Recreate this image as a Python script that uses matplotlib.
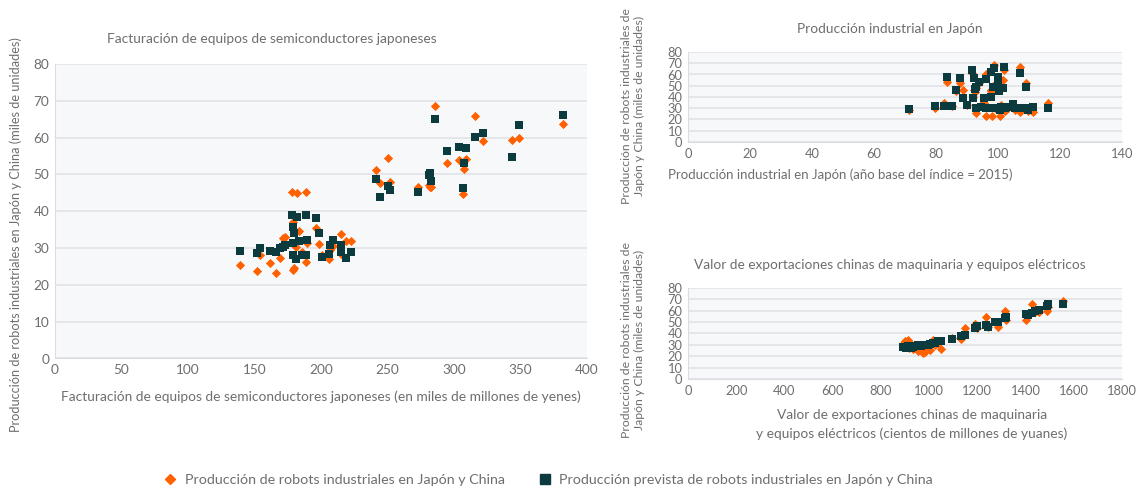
import numpy as np
import matplotlib.pyplot as plt

plt.rcParams['font.family'] = ['Lato', 'DejaVu Sans']

# Colours
ORANGE = '#ff6000'
DARK = '#0b3a3f'
GREY_TXT = '#6d6e71'
BG = '#f7f8fa'
GRID = '#e2e3e6'

# ---- Panel 1: semiconductor equipment billing (x), actual & predicted robots ----
semi_x = [138.8, 151.9, 154.4, 162.0, 166.2, 169.5, 171.5, 173.3, 178.3, 179.0,
          180.0, 179.0, 181.3, 182.0, 183.3, 178.8, 188.8, 189.6, 189.0, 185.8,
          196.6, 198.4, 200.9, 205.9, 206.4, 209.2, 214.7, 215.2, 219.0, 222.7,
          241.5, 244.0, 250.3, 251.8, 272.9, 282.0, 281.2, 283.0, 285.8, 295.0,
          303.8, 308.8, 307.3, 306.6, 315.8, 321.8, 343.7, 348.5, 382.2]
semi_real = [25.4, 23.8, 28.1, 25.9, 23.2, 27.2, 32.7, 33.1, 45.1, 24.0,
             24.5, 37.2, 30.4, 44.9, 34.5, 31.0, 45.2, 31.3, 26.2, 29.0,
             35.4, 31.0, 28.0, 27.0, 29.5, 30.5, 33.8, 28.4, 31.8, 32.0,
             51.1, 47.6, 54.4, 47.9, 46.5, 46.7, 47.0, 46.5, 68.6, 53.0,
             53.8, 54.2, 51.6, 44.6, 65.9, 59.2, 59.4, 59.9, 63.8]
semi_prev = [29.3, 28.6, 30.1, 29.3, 28.8, 30.0, 30.4, 30.7, 39.0, 35.7,
             34.0, 31.3, 27.0, 38.4, 31.8, 28.1, 39.0, 32.2, 28.1, 28.1,
             38.1, 34.0, 27.5, 28.4, 30.7, 32.2, 30.7, 29.0, 27.2, 29.0,
             48.7, 43.8, 46.9, 45.8, 45.3, 50.5, 49.9, 48.3, 65.0, 56.5,
             57.4, 57.3, 53.0, 46.2, 60.1, 61.2, 54.7, 63.5, 66.2]

# ---- Panel 2: Japanese industrial production index (x) ----
ind_x = [71.4, 79.7, 82.6, 85.1, 83.7, 87.6, 86.5, 88.6, 90.1, 91.6,
         92.3, 92.8, 92.5, 93.9, 92.0, 92.8, 94.4, 95.4, 96.0, 96.2,
         97.8, 98.8, 97.6, 98.4, 99.9, 101.5, 100.2, 100.0, 102.0, 98.1,
         99.5, 100.7, 101.0, 102.3, 103.3, 104.9, 105.5, 107.0, 108.6, 109.7,
         111.3, 107.1, 108.9, 116.1]
ind_real = [28.5, 30.5, 34.5, 32.0, 53.6, 52.2, 45.0, 46.2, 33.0, 61.0,
            46.2, 48.3, 44.0, 52.0, 40.0, 25.5, 33.0, 35.0, 23.4, 60.2,
            46.2, 68.5, 45.0, 50.0, 50.0, 55.1, 46.0, 58.0, 64.0, 23.4,
            29.0, 23.1, 33.0, 27.5, 30.0, 31.0, 28.0, 27.0, 29.0, 27.6,
            26.4, 66.4, 52.2, 34.9]
ind_prev = [29.0, 32.3, 32.0, 32.3, 57.8, 57.2, 46.5, 38.8, 32.9, 64.0,
            57.2, 49.2, 46.8, 53.6, 39.4, 30.0, 31.4, 38.8, 30.0, 55.7,
            62.0, 65.5, 39.7, 48.6, 51.3, 47.7, 45.3, 57.5, 66.4, 30.0,
            30.5, 28.4, 31.4, 30.0, 31.4, 33.5, 30.0, 30.5, 30.0, 28.4,
            31.4, 61.0, 49.2, 30.0]

# ---- Panel 3: Chinese machinery & electrical equipment exports (x) ----
exp_x = [890, 900, 905, 912, 918, 925, 935, 945, 955, 965,
         976, 985, 995, 1005, 1015, 1025, 1035, 1048, 1095, 1132,
         1150, 1190, 1200, 1238, 1245, 1275, 1285, 1315, 1320, 1400,
         1410, 1425, 1440, 1455, 1487, 1495, 1556]
exp_real = [31.0, 33.5, 30.0, 34.0, 27.0, 31.0, 26.0, 28.0, 25.0, 27.5,
            22.6, 24.0, 29.0, 25.5, 34.0, 30.0, 31.5, 26.5, 36.0, 35.0,
            45.0, 48.4, 45.0, 54.8, 46.0, 50.0, 46.0, 59.8, 52.0, 52.0,
            55.0, 65.9, 59.0, 58.5, 60.0, 63.0, 68.8]
exp_prev = [28.0, 28.5, 27.0, 29.0, 28.5, 27.5, 28.5, 29.0, 29.5, 29.0,
            29.5, 30.0, 29.5, 30.5, 31.5, 32.0, 33.0, 33.0, 35.2, 38.0,
            38.7, 45.0, 46.5, 47.5, 46.0, 49.8, 50.5, 53.3, 54.5, 57.0,
            56.0, 58.3, 60.0, 61.0, 64.2, 66.0, 65.7]

lbl_real = 'Producción de robots industriales en Japón y China'
lbl_prev = 'Producción prevista de robots industriales en Japón y China'

W, H = 1139, 486
fig = plt.figure(figsize=(W / 100, H / 100), dpi=100)
fig.patch.set_facecolor('white')


def px_axes(x0, x1, ytop, ybot):
    # axes rectangle given in pixel coordinates of the picture
    return fig.add_axes([x0 / W, 1 - ybot / H, (x1 - x0) / W, (ybot - ytop) / H])


def style(ax, xlim, xstep, fs):
    ax.set_facecolor(BG)
    ax.set_xlim(*xlim)
    ax.set_ylim(0, 80)
    ax.set_xticks(np.arange(xlim[0], xlim[1] + 1, xstep))
    ax.set_yticks(np.arange(0, 81, 10))
    ax.grid(axis='y', color=GRID, linewidth=1.2)
    ax.set_axisbelow(True)
    for s in ['top', 'right']:
        ax.spines[s].set_visible(False)
    for s in ['left', 'bottom']:
        ax.spines[s].set_color('#dcdde0')
    ax.tick_params(length=0, labelsize=fs, labelcolor=GREY_TXT, pad=4)


def points(ax, x, real, prev, s_sq, s_di):
    ax.scatter(x, real, marker='D', s=s_di, color=ORANGE, linewidths=0, zorder=3)
    ax.scatter(x, prev, marker='s', s=s_sq, color=DARK, linewidths=0, zorder=4)


# left panel
ax1 = px_axes(55, 587, 64, 358.5)
style(ax1, (0, 400), 50, 9.8)
points(ax1, semi_x, semi_real, semi_prev, 32, 22)
fig.text(272 / W, 1 - 39 / H, 'Facturación de equipos de semiconductores japoneses',
         ha='center', va='center', fontsize=9.9, color=GREY_TXT)
fig.text(321 / W, 1 - 397 / H,
         'Facturación de equipos de semiconductores japoneses (en miles de millones de yenes)',
         ha='center', va='center', fontsize=9.9, color=GREY_TXT)
fig.text(16 / W, 1 - 235 / H,
         'Producción de robots industriales en Japón y China (miles de unidades)',
         ha='center', va='center', rotation=90, fontsize=9.2, color=GREY_TXT)

# upper right panel
ax2 = px_axes(688, 1122, 52, 142)
style(ax2, (0, 140), 20, 9.3)
points(ax2, ind_x, ind_real, ind_prev, 32, 22)
fig.text(890 / W, 1 - 29 / H, 'Producción industrial en Japón',
         ha='center', va='center', fontsize=9.9, color=GREY_TXT)
fig.text(840 / W, 1 - 175 / H,
         'Producción industrial en Japón (año base del índice = 2015)',
         ha='center', va='center', fontsize=9.5, color=GREY_TXT)
fig.text(633 / W, 1 - 106 / H,
         'Producción de robots industriales de\nJapón y China (miles de unidades)',
         ha='center', va='center', rotation=90, fontsize=8.8, color=GREY_TXT,
         linespacing=1.25)

# lower right panel
ax3 = px_axes(688, 1122, 288, 379)
style(ax3, (0, 1800), 200, 9.3)
points(ax3, exp_x, exp_real, exp_prev, 32, 22)
fig.text(890 / W, 1 - 265 / H,
         'Valor de exportaciones chinas de maquinaria y equipos eléctricos',
         ha='center', va='center', fontsize=9.8, color=GREY_TXT)
fig.text(912 / W, 1 - 424.5 / H,
         'Valor de exportaciones chinas de maquinaria\ny equipos eléctricos (cientos de millones de yuanes)',
         ha='center', va='center', fontsize=9.9, color=GREY_TXT, linespacing=1.65)
fig.text(633 / W, 1 - 340 / H,
         'Producción de robots industriales de\nJapón y China (miles de unidades)',
         ha='center', va='center', rotation=90, fontsize=8.8, color=GREY_TXT,
         linespacing=1.25)

# legend at the bottom
h1 = plt.Line2D([], [], marker='D', color=ORANGE, linestyle='none', markersize=5)
h2 = plt.Line2D([], [], marker='s', color=DARK, linestyle='none', markersize=7)
leg = fig.legend([h1, h2], [lbl_real, lbl_prev], loc='center',
                 bbox_to_anchor=(548 / W, 1 - 480 / H), ncol=2, frameon=False,
                 fontsize=10.3, handletextpad=0.5, columnspacing=2.3,
                 handlelength=1.0)
for t in leg.get_texts():
    t.set_color(GREY_TXT)

fig.savefig('out.png', dpi=100)
